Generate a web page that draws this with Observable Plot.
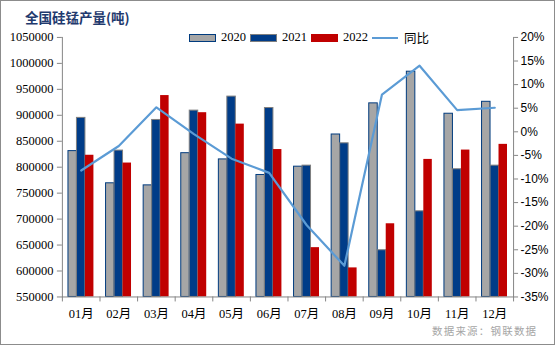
<!DOCTYPE html>
<html>
<head>
<meta charset="utf-8">
<script src="https://cdn.jsdelivr.net/npm/d3@7"></script>
<script src="https://cdn.jsdelivr.net/npm/@observablehq/plot@0.6"></script>
<style>
  html, body { margin: 0; padding: 0; background: #fff; }
  #wrap { position: relative; width: 555px; height: 345px; box-sizing: border-box; border: 1px solid #8c8c8c; overflow: hidden; }
  #chart { position: absolute; left: -1px; top: -1px; }
  #title { position: absolute; left: 24px; top: 6px; font-family: "Noto Sans CJK SC", sans-serif; font-weight: bold; font-size: 13.5px; color: #1f3a6e; }
  #legend { position: absolute; left: 188px; top: 27px; display: flex; align-items: center; font-family: "Liberation Serif", "Noto Sans CJK SC", serif; font-size: 12.5px; color: #000; }
  #legend .item { display: flex; align-items: center; margin-right: 4px; }
  #legend .sw { width: 25px; height: 6px; margin-right: 5px; }
  #legend .ln { width: 26px; height: 2px; background: #5b9bd5; margin-right: 6px; }
  #source { position: absolute; left: 431px; top: 322px; font-family: "Noto Sans CJK SC", sans-serif; font-size: 10.5px; letter-spacing: 1.2px; color: #a6a6a6; }
</style>
</head>
<body>
<div id="wrap">
  <div id="chart"></div>
  <div id="title">全国硅锰产量(吨)</div>
  <div id="legend"></div>
  <div id="source">数据来源：钢联数据</div>
</div>
<script>
const months = ["01月","02月","03月","04月","05月","06月","07月","08月","09月","10月","11月","12月"];
const v2020 = [831000, 769000, 765000, 827000, 815000, 785000, 801000, 863000, 923000, 984000, 903000, 926000];
const v2021 = [895000, 832000, 891000, 909000, 936000, 914000, 803000, 846000, 640000, 715000, 796000, 803000];
const v2022 = [823000, 808000, 938000, 905000, 883000, 834000, 645000, 606000, 691000, 815000, 833000, 844000];
const yoy   = [-8.2, -3.0, 5.2, -0.5, -5.7, -8.7, -19.8, -28.4, 7.9, 14.0, 4.6, 5.1];
const leftTicks = [550000,600000,650000,700000,750000,800000,850000,900000,950000,1000000,1050000];
const rightTicks = [20,15,10,5,0,-5,-10,-15,-20,-25,-30,-35];
const seriesNames = ["2020","2021","2022","同比"];

const yMin = 550000, yMax = 1050000, pMin = -35, pMax = 20;
const toY = p => yMin + (p - pMin) / (pMax - pMin) * (yMax - yMin);
const fromY = y => Math.round(pMin + (y - yMin) / (yMax - yMin) * (pMax - pMin));

const rows = months.map((m, i) => ({m, a: v2020[i], b: v2021[i], c: v2022[i], p: toY(yoy[i])}));

const W = 555, H = 345, mL = 62, mR = 41, mT = 37, mB = 48;
const band = (W - mL - mR) / months.length;
const bw = 8.5;
const inset = (band - bw) / 2;
const serif = "Liberation Serif, Noto Sans CJK SC, serif";
const axisColor = "#868686";

const plot = Plot.plot({
  width: W, height: H,
  marginLeft: mL, marginRight: mR, marginTop: mT, marginBottom: mB,
  style: {background: "transparent", fontSize: "12.5px", fontFamily: serif, color: "#000"},
  x: {domain: months, padding: 0, round: false, axis: null, label: null},
  y: {domain: [yMin, yMax], axis: null, label: null},
  marks: [
    Plot.barY(rows, {x: "m", y1: yMin, y2: "a", dx: -bw, insetLeft: inset, insetRight: inset, fill: "#a6a6a6", stroke: "#003b7e", strokeWidth: 1}),
    Plot.barY(rows, {x: "m", y1: yMin, y2: "b", dx: 0, insetLeft: inset, insetRight: inset, fill: "#003c88", stroke: "#7f7f7f", strokeWidth: 1}),
    Plot.barY(rows, {x: "m", y1: yMin, y2: "c", dx: bw, insetLeft: inset, insetRight: inset, fill: "#c00000"}),
    Plot.line(rows, {x: "m", y: "p", stroke: "#5b9bd5", strokeWidth: 2.2}),
    Plot.frame({anchor: "left", stroke: axisColor}),
    Plot.frame({anchor: "right", stroke: axisColor}),
    Plot.frame({anchor: "bottom", stroke: axisColor}),
    Plot.axisY({anchor: "left", label: null, ticks: leftTicks, tickFormat: d => String(d), tickSize: 5, tickPadding: 4, stroke: axisColor, fill: "#000", fontFamily: serif, fontSize: 12.5}),
    Plot.axisY({anchor: "right", label: null, ticks: rightTicks.map(toY), tickFormat: y => fromY(y) + "%", tickSize: 4, tickPadding: 3, stroke: axisColor, fill: "#000", fontFamily: "Liberation Sans, sans-serif", fontSize: 12}),
    Plot.axisX({anchor: "bottom", label: null, ticks: months, tickSize: 0, tickPadding: 12, fontFamily: serif, fontSize: 12.5, fill: "#000"}),
    Plot.axisX({anchor: "bottom", label: null, ticks: months, tickSize: 5, dx: -band / 2, stroke: axisColor, tickFormat: () => ""}),
    Plot.axisX({anchor: "bottom", label: null, ticks: months.slice(-1), tickSize: 5, dx: band / 2, stroke: axisColor, tickFormat: () => ""})
  ]
});
document.getElementById("chart").appendChild(plot);

const legend = document.getElementById("legend");
const sw = [
  {bg: "#a6a6a6", bd: "1px solid #003b7e"},
  {bg: "#003c88", bd: "1px solid #7f7f7f"},
  {bg: "#c00000", bd: "1px solid #c00000"}
];
seriesNames.forEach((name, i) => {
  const it = document.createElement("div");
  it.className = "item";
  const s = document.createElement("div");
  if (i < 3) { s.className = "sw"; s.style.background = sw[i].bg; s.style.border = sw[i].bd; }
  else { s.className = "ln"; }
  it.appendChild(s);
  const t = document.createElement("span");
  t.textContent = name;
  if (i === 3) t.style.fontFamily = "Noto Sans CJK SC, sans-serif";
  it.appendChild(t);
  legend.appendChild(it);
});
</script>
</body>
</html>
